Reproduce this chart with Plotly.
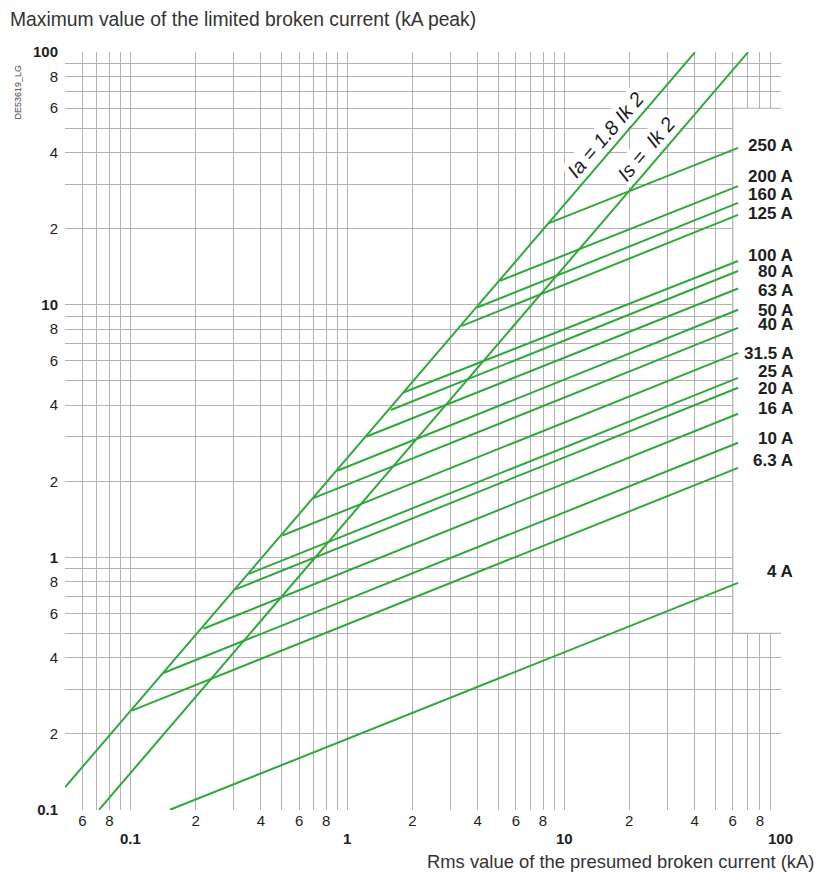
import numpy as np
import plotly.graph_objects as go

# ---------------- data ----------------
ratings = ["250 A", "200 A", "160 A", "125 A", "100 A", "80 A", "63 A", "50 A",
           "40 A", "31.5 A", "25 A", "20 A", "16 A", "10 A", "6.3 A", "4 A"]
# knee point of each fuse curve (on the Ia line), kA rms / kA peak
knee_ik = [8.47, 5.07, 4.00, 3.38, 1.815, 1.588, 1.221, 0.900,
           0.698, 0.502, 0.352, 0.307, 0.217, 0.1418, 0.1014, 0.152]
knee_ia = [21.0, 12.45, 9.77, 8.25, 4.49, 3.83, 3.00, 2.20,
           1.714, 1.219, 0.860, 0.748, 0.521, 0.348, 0.247, 0.100]
# right end of each fuse curve
end_ik = 63.5
end_ia = [41.8, 29.5, 25.3, 22.7, 14.9, 13.6, 11.6, 9.55,
          8.1, 6.45, 5.13, 4.69, 3.70, 2.84, 2.26, 0.792]

# asymptotic lines
ia_line_ik = [0.05, 40.2]
ia_line_ia = [0.123, 100]
is_line_ik = [0.0716, 70.6]
is_line_is = [0.1, 100]

# tick labels
x_major = [0.06, 0.08, 0.2, 0.4, 0.6, 0.8, 2, 4, 6, 8, 20, 40, 60, 80]
x_major_text = ["6", "8", "2", "4", "6", "8", "2", "4", "6", "8", "2", "4", "6", "8"]
x_minor = [0.05, 0.07, 0.09, 0.1, 0.3, 0.5, 0.7, 0.9, 1, 3, 5, 7, 9, 10,
           30, 50, 70, 90, 100]
x_decades = [0.1, 1, 10, 100]
x_decade_text = ["0.1", "1", "10", "100"]

y_major = [0.1, 0.2, 0.4, 0.6, 0.8, 1, 2, 4, 6, 8, 10, 20, 40, 60, 80, 100]
y_major_text = ["<b>0.1</b>", "2", "4", "6", "8", "<b>1</b>", "2", "4", "6", "8",
                "<b>10</b>", "2", "4", "6", "8", "<b>100</b>"]
y_minor = [0.3, 0.5, 0.7, 0.9, 3, 5, 7, 9, 30, 50, 70, 90]

# ---------------- layout constants ----------------
FONT = "Liberation Sans, Arial, Helvetica, sans-serif"
GREEN = "#2fa83c"
GRID = "#b3b3b3"
TEXT = "#1e1e1e"
LABEL_Y = [42.8, 32.1, 27.2, 22.9, 15.7, 13.6, 11.4, 9.45,
           8.32, 6.44, 5.42, 4.64, 3.87, 2.94, 2.41, 0.875]
CUT_X = 60          # grid is interrupted right of this value
CUT_Y = (0.5, 60)   # between these values

fig = go.Figure()

fig.add_trace(go.Scatter(x=ia_line_ik, y=ia_line_ia, mode="lines",
                         line=dict(color=GREEN, width=2), hoverinfo="skip"))
fig.add_trace(go.Scatter(x=is_line_ik, y=is_line_is, mode="lines",
                         line=dict(color=GREEN, width=2), hoverinfo="skip"))
for name, kx, ky, ey in zip(ratings, knee_ik, knee_ia, end_ia):
    fig.add_trace(go.Scatter(x=[kx, end_ik], y=[ky, ey], mode="lines", name=name,
                             line=dict(color=GREEN, width=2), hoverinfo="skip"))

# white area where the grid stops
fig.add_shape(type="rect", xref="x", yref="y", x0=CUT_X, x1=1000,
              y0=CUT_Y[0], y1=CUT_Y[1], fillcolor="white",
              line=dict(color=GRID, width=1.2), layer="between")

ann = []
for name, ly in zip(ratings, LABEL_Y):
    ann.append(dict(text="<b>" + name + "</b>", xref="paper", yref="y",
                    x=1.0196, y=np.log10(ly), xanchor="right", yanchor="middle",
                    showarrow=False, font=dict(size=17, color=TEXT, family=FONT)))
for v, t in zip(x_decades, x_decade_text):
    ann.append(dict(text="<b>" + t + "</b>", xref="x", yref="paper",
                    x=np.log10(v), y=-0.037, xanchor="center", yanchor="middle",
                    showarrow=False, font=dict(size=15, color=TEXT, family=FONT)))

ann.append(dict(text="<i>Ia = 1.8 Ik 2</i>", xref="x", yref="y",
                x=np.log10(15.5), y=np.log10(47.0), textangle=-49.4,
                showarrow=False, bgcolor="white", borderpad=1,
                font=dict(size=20, color=TEXT, family=FONT)))
ann.append(dict(text="<i>Is =  Ik 2</i>", xref="x", yref="y",
                x=np.log10(23.9), y=np.log10(41.4), textangle=-49.4,
                showarrow=False, bgcolor="white", borderpad=1,
                font=dict(size=20, color=TEXT, family=FONT)))

ann.append(dict(text="Maximum value of the limited broken current (kA peak)",
                xref="paper", yref="paper", x=-0.0801, y=1.0426,
                xanchor="left", yanchor="middle", showarrow=False,
                font=dict(size=19.3, color="#333333", family=FONT)))
ann.append(dict(text="Rms value of the presumed broken current (kA)",
                xref="paper", yref="paper", x=1.0489, y=-0.0686,
                xanchor="right", yanchor="middle", showarrow=False,
                font=dict(size=18.4, color="#333333", family=FONT)))
ann.append(dict(text="DE53619_LG", xref="paper", yref="paper", x=-0.066, y=0.9476,
                xanchor="center", yanchor="middle", textangle=-90, showarrow=False,
                font=dict(size=9, color="#444444", family=FONT)))

# the page body adds an 8 px offset; the figure is sized to compensate
fig.update_layout(
    width=827, height=866,
    margin=dict(l=57, r=54, t=44, b=64),
    plot_bgcolor="white", paper_bgcolor="white",
    showlegend=False,
    annotations=ann,
    font=dict(family=FONT, color=TEXT),
)
fig.update_xaxes(type="log", range=[np.log10(0.05) - 0.0008, 2.0008],
                 tickmode="array", tickvals=x_major, ticktext=x_major_text,
                 tickfont=dict(size=15, color=TEXT, family=FONT),
                 showgrid=True, gridcolor=GRID, gridwidth=1.2, zeroline=False,
                 ticks="", showline=False,
                 minor=dict(tickmode="array", tickvals=x_minor, showgrid=True,
                            gridcolor=GRID, gridwidth=1.2, ticks=""))
fig.update_yaxes(type="log", range=[-1.0008, 2.0008],
                 tickmode="array", tickvals=y_major, ticktext=y_major_text,
                 tickfont=dict(size=15, color=TEXT, family=FONT),
                 ticklabelstandoff=6,
                 showgrid=True, gridcolor=GRID, gridwidth=1.2, zeroline=False,
                 ticks="", showline=False,
                 minor=dict(tickmode="array", tickvals=y_minor, showgrid=True,
                            gridcolor=GRID, gridwidth=1.2, ticks=""))

fig.write_html("out.html")
